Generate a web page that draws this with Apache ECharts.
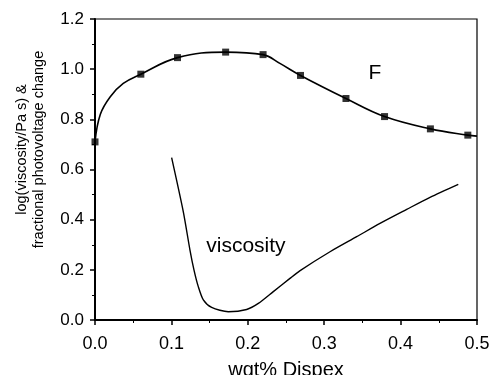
<!DOCTYPE html>
<html>
<head>
<meta charset="utf-8">
<script src="https://cdn.jsdelivr.net/npm/echarts@6/dist/echarts.min.js"></script>
<style>html,body{margin:0;padding:0;background:#fff;}#c{width:491px;height:375px;}</style>
</head>
<body>
<div id="c"></div>
<script>
// F: fractional photovoltage change (measured points)
var fPointsX = [0.0, 0.06, 0.108, 0.171, 0.22, 0.269, 0.3285, 0.379, 0.439, 0.488];
var fPointsY = [0.71, 0.98, 1.046, 1.068, 1.058, 0.975, 0.883, 0.811, 0.762, 0.737];
// F: fitted curve
var fCurveX = [0.0, 0.007, 0.02, 0.037, 0.06, 0.108, 0.171, 0.22, 0.242, 0.269, 0.3285, 0.379, 0.439, 0.488, 0.5];
var fCurveY = [0.71, 0.82, 0.89, 0.943, 0.98, 1.046, 1.068, 1.058, 1.023, 0.975, 0.883, 0.811, 0.762, 0.737, 0.733];
// log(viscosity / Pa s)
var viscX = [0.1003, 0.1156, 0.1243, 0.1296, 0.1352, 0.1418, 0.1527, 0.1745, 0.1985, 0.2138, 0.2334, 0.2552, 0.268, 0.3076, 0.3425, 0.373, 0.408, 0.4385, 0.4755];
var viscY = [0.647, 0.431, 0.279, 0.199, 0.133, 0.08, 0.05, 0.033, 0.042, 0.066, 0.113, 0.166, 0.196, 0.272, 0.332, 0.385, 0.441, 0.489, 0.541];
// axis ticks
var xTicks = [0.0, 0.1, 0.2, 0.3, 0.4, 0.5];
var yTicks = [0.0, 0.2, 0.4, 0.6, 0.8, 1.0, 1.2];
var labelF = {text: 'F', x: 0.3665, y: 0.985};
var labelVisc = {text: 'viscosity', x: 0.1975, y: 0.293};

function pairs(xs, ys) { return xs.map(function (x, i) { return [x, ys[i]]; }); }

var FONT = 'Liberation Sans, Arial, Helvetica, sans-serif';
var chart = echarts.init(document.getElementById('c'), null, {renderer: 'canvas'});
chart.setOption({
  animation: false,
  backgroundColor: '#fff',
  grid: {left: 95, top: 19, width: 382, height: 301, containLabel: false, outerBoundsMode: 'none',
         show: true, borderColor: '#000', borderWidth: 1.2, backgroundColor: 'transparent'},
  xAxis: {
    type: 'value', min: xTicks[0], max: xTicks[xTicks.length - 1], interval: 0.1,
    name: 'wgt% Dispex', nameLocation: 'middle', nameGap: 40,
    nameTextStyle: {fontFamily: FONT, fontSize: 20, color: '#000'},
    axisLine: {show: true, onZero: false, lineStyle: {color: '#000', width: 2}},
    axisTick: {show: true, inside: false, length: 5, lineStyle: {color: '#000', width: 1.5}},
    minorTick: {show: true, splitNumber: 2, length: 3, lineStyle: {color: '#000', width: 1}},
    axisLabel: {fontFamily: FONT, fontSize: 18, color: '#000', margin: 15, formatter: function (v) { return v.toFixed(1); }},
    splitLine: {show: false}
  },
  yAxis: {
    type: 'value', min: yTicks[0], max: yTicks[yTicks.length - 1], interval: 0.2,
    name: 'log(viscosity/Pa s) &\nfractional photovoltage change', nameLocation: 'middle', nameGap: 48,
    nameTextStyle: {fontFamily: FONT, fontSize: 14.5, lineHeight: 17, color: '#000', padding: [0, 0, 0, 40]},
    axisLine: {show: true, onZero: false, lineStyle: {color: '#000', width: 2}},
    axisTick: {show: true, inside: false, length: 5, lineStyle: {color: '#000', width: 1.5}},
    minorTick: {show: true, splitNumber: 2, length: 3, lineStyle: {color: '#000', width: 1}},
    axisLabel: {fontFamily: FONT, fontSize: 17, color: '#000', margin: 11, formatter: function (v) { return v.toFixed(1); }},
    splitLine: {show: false}
  },
  series: [
    {
      type: 'line', name: 'F curve', data: pairs(fCurveX, fCurveY), smooth: 0.4, showSymbol: false,
      lineStyle: {color: '#000', width: 1.6}, z: 2,
      markPoint: {
        symbol: 'circle', symbolSize: 0,
        label: {show: true, position: 'inside', fontFamily: FONT, fontSize: 21, color: '#000'},
        data: [
          {coord: [labelF.x, labelF.y], label: {formatter: labelF.text}},
          {coord: [labelVisc.x, labelVisc.y], label: {formatter: labelVisc.text}}
        ]
      }
    },
    {
      type: 'scatter', name: 'F', data: pairs(fPointsX, fPointsY), symbol: 'rect', symbolSize: 7,
      itemStyle: {color: '#000'}, z: 3
    },
    {
      type: 'line', name: 'viscosity', data: pairs(viscX, viscY), smooth: 0.25, showSymbol: false,
      lineStyle: {color: '#000', width: 1.4}, z: 2
    }
  ]
});
</script>
</body>
</html>
